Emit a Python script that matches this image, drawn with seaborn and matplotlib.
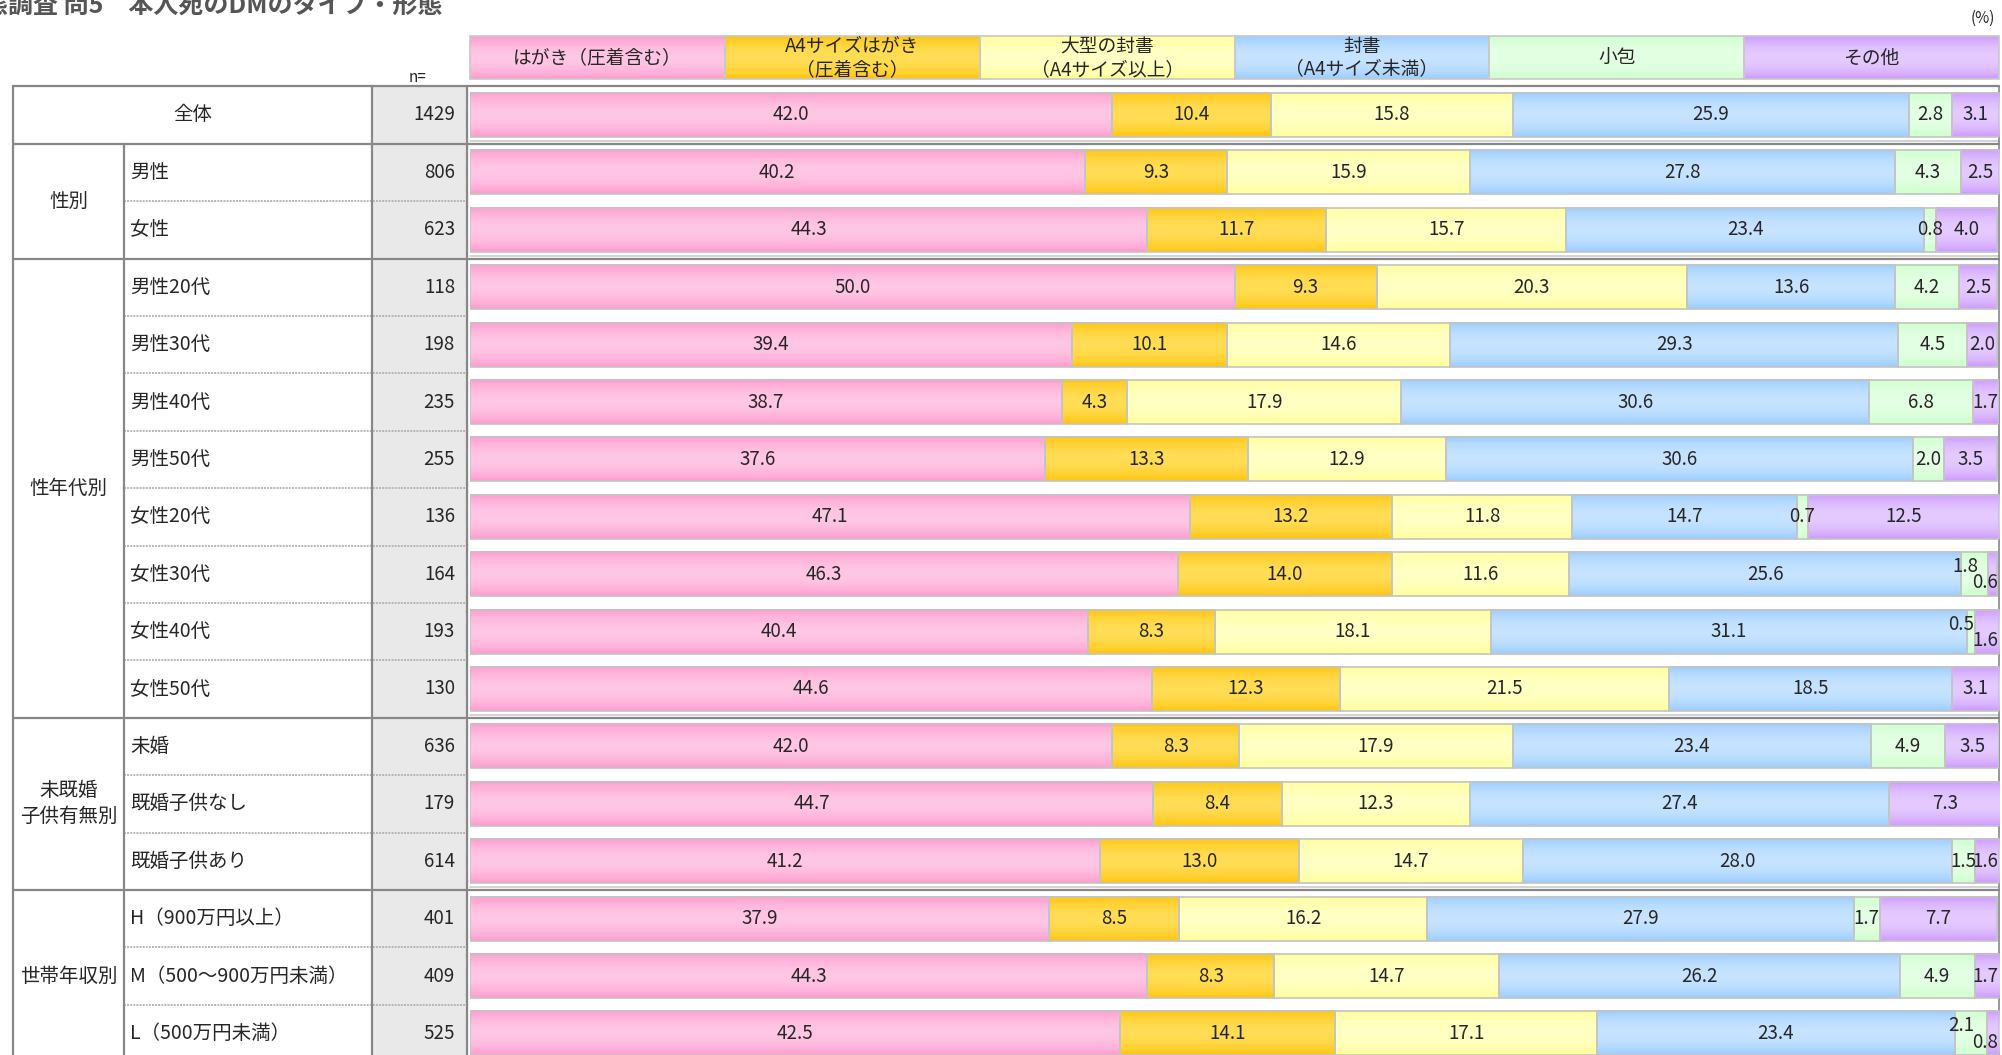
import numpy as np
import seaborn as sns
import matplotlib.pyplot as plt
from matplotlib.colors import to_rgb
from matplotlib.patches import Rectangle

sns.set_theme(style="white")
plt.rcParams['font.family'] = ['Noto Sans CJK JP', 'DejaVu Sans']

# --- data ---
rows = ["全体", "男性", "女性",
        "男性20代", "男性30代", "男性40代", "男性50代",
        "女性20代", "女性30代", "女性40代", "女性50代",
        "未婚", "既婚子供なし", "既婚子供あり",
        "H（900万円以上）", "M（500～900万円未満）", "L（500万円未満）"]
n_vals = [1429, 806, 623, 118, 198, 235, 255, 136, 164, 193, 130, 636, 179, 614, 401, 409, 525]
series = ["はがき（圧着含む）", "A4サイズはがき\n（圧着含む）", "大型の封書\n（A4サイズ以上）",
          "封書\n（A4サイズ未満）", "小包", "その他"]
hagaki = [42.0, 40.2, 44.3, 50.0, 39.4, 38.7, 37.6, 47.1, 46.3, 40.4, 44.6, 42.0, 44.7, 41.2, 37.9, 44.3, 42.5]
a4_hagaki = [10.4, 9.3, 11.7, 9.3, 10.1, 4.3, 13.3, 13.2, 14.0, 8.3, 12.3, 8.3, 8.4, 13.0, 8.5, 8.3, 14.1]
large_env = [15.8, 15.9, 15.7, 20.3, 14.6, 17.9, 12.9, 11.8, 11.6, 18.1, 21.5, 17.9, 12.3, 14.7, 16.2, 14.7, 17.1]
small_env = [25.9, 27.8, 23.4, 13.6, 29.3, 30.6, 30.6, 14.7, 25.6, 31.1, 18.5, 23.4, 27.4, 28.0, 27.9, 26.2, 23.4]
parcel = [2.8, 4.3, 0.8, 4.2, 4.5, 6.8, 2.0, 0.7, 1.8, 0.5, 0.0, 4.9, 0.0, 1.5, 1.7, 4.9, 2.1]
other = [3.1, 2.5, 4.0, 2.5, 2.0, 1.7, 3.5, 12.5, 0.6, 1.6, 3.1, 3.5, 7.3, 1.6, 7.7, 1.7, 0.8]
groups = [("性別", 1, 2), ("性年代別", 3, 10), ("未既婚\n子供有無別", 11, 13), ("世帯年収別", 14, 16)]

# (darker edge tone, lighter middle tone) for each type
shades = [("#ff99cc", "#ffc6e5"), ("#ffc40a", "#ffdd55"), ("#ffff99", "#ffffc4"),
          ("#99ccff", "#c6e3ff"), ("#ccffcc", "#e4ffe4"), ("#cc99ff", "#e4caff")]

W, H = 2002, 1055
fig = plt.figure(figsize=(W / 100, H / 100), dpi=100)

X_BAR0, X_BAR1 = 470, 1999
ROW0, PITCH = 115, 57.4


def ypx(i):
    return ROW0 + PITCH * i


def shade(axis, x0, y0, w, h, edge, mid, z):
    t = np.linspace(0, 1, 48)
    s = np.sin(np.pi * t) ** 0.8
    c0, c1 = np.array(to_rgb(edge)), np.array(to_rgb(mid))
    img = c0 + (c1 - c0) * s[:, None]
    axis.imshow(img[:, None, :], extent=(x0, x0 + w, y0 + h, y0), aspect='auto',
                interpolation='bilinear', zorder=z)


# table layer in pixel coordinates
tab = fig.add_axes([0, 0, 1, 1], zorder=0)
tab.set_xlim(0, W)
tab.set_ylim(H, 0)
tab.axis('off')

top_px, bot_px = ypx(-0.5), ypx(len(rows) - 0.5)
ax = fig.add_axes([X_BAR0 / W, 1 - bot_px / H, (X_BAR1 - X_BAR0) / W, (bot_px - top_px) / H], zorder=1)
ax.patch.set_alpha(0)

vals = np.array([hagaki, a4_hagaki, large_env, small_env, parcel, other])
lefts = np.vstack([np.zeros(len(rows)), np.cumsum(vals, axis=0)[:-1]])

for k in range(len(series)):
    before = len(ax.patches)
    sns.barplot(x=vals[k], y=rows, orient='y', left=lefts[k], color=shades[k][0],
                saturation=1, width=0.77, edgecolor='#c4c4c4', linewidth=1.2,
                errorbar=None, ax=ax)
    for p in ax.patches[before:]:
        p.set_facecolor('none')
        p.set_zorder(3)
        if p.get_width() > 0:
            shade(ax, p.get_x(), p.get_y(), p.get_width(), p.get_height(),
                  shades[k][0], shades[k][1], 2)

# value labels (tiny neighbouring segments get staggered up/down)
for k in range(len(series)):
    for i in range(len(rows)):
        v = vals[k, i]
        if v <= 0:
            continue
        xc = lefts[k, i] + v / 2
        dy = 0
        g, o = vals[4, i], vals[5, i]
        if k >= 4 and g > 0 and g + o < 3.5 and min(g, o) < 1.0:
            dy = -0.13 if k == 4 else 0.15
            if k == 4:
                xc -= 0.6
        xc = min(xc, 99.1)
        ax.text(xc, i + dy, f"{v:.1f}", ha='center', va='center', fontsize=13.5, zorder=5)

ax.set_xlim(0, 100)
ax.set_ylim(len(rows) - 0.5, -0.5)
ax.axis('off')

# --- table frame ---
GRID = '#878787'
x_left, x_grp, x_lab, x_n = 13, 124, 372, 467
tab.add_patch(Rectangle((x_lab, top_px), x_n - x_lab, H - top_px, color='#e9e9e9', zorder=0))

tab.plot([x_left, X_BAR1], [top_px, top_px], color=GRID, lw=1.6)
group_ends = [0] + [g[2] for g in groups[:-1]]
for i in range(len(rows) - 1):
    yb = ypx(i + 0.5)
    if i in group_ends:
        tab.plot([x_left, X_BAR1], [yb, yb], color=GRID, lw=1.6)
        tab.plot([X_BAR0, X_BAR1], [yb - 3, yb - 3], color='#cccccc', lw=1.2)
    else:
        tab.plot([x_grp, x_n], [yb, yb], color='#b5b5b5', lw=1.4, ls=(0, (1, 0.6)))

tab.plot([x_left, x_left], [top_px, H], color=GRID, lw=1.6)
tab.plot([x_grp, x_grp], [ypx(0.5), H], color=GRID, lw=1.6)
tab.plot([x_lab, x_lab], [top_px, H], color=GRID, lw=1.6)
tab.plot([x_n, x_n], [top_px, H], color=GRID, lw=1.6)
tab.plot([X_BAR1, X_BAR1], [top_px, H], color=GRID, lw=1.2)

# row texts
tab.text((x_left + x_lab) / 2, ypx(0), rows[0], ha='center', va='center', fontsize=14)
for i in range(1, len(rows)):
    tab.text(x_grp + 6, ypx(i), rows[i], ha='left', va='center', fontsize=14)
for i, n in enumerate(n_vals):
    tab.text(x_n - 12, ypx(i), str(n), ha='right', va='center', fontsize=13.5)
for name, a, b in groups:
    tab.text((x_left + x_grp) / 2, ypx((a + b) / 2), name, ha='center', va='center',
             fontsize=14, linespacing=1.3)

# legend header
box_w = (X_BAR1 - X_BAR0) / len(series)
for k, name in enumerate(series):
    bx = X_BAR0 + k * box_w
    shade(tab, bx, 36, box_w, 43, shades[k][0], shades[k][1], 1)
    tab.add_patch(Rectangle((bx, 36), box_w, 43, fill=False, ec='#c8c8c8', lw=1.2, zorder=2))
    tab.text(bx + box_w / 2, 58, name, ha='center', va='center', fontsize=13.5,
             linespacing=1.1, zorder=3)

tab.text(418, 77, "n=", ha='center', va='center', fontsize=11)
tab.text(1983, 18, "(%)", ha='center', va='center', fontsize=11)
tab.text(-17, 13, "態調査 問5　本人宛のDMのタイプ・形態", ha='left', va='baseline',
         fontsize=18, fontweight='bold', color='#555555')

tab.set_xlim(0, W)
tab.set_ylim(H, 0)

fig.savefig("out.png", dpi=100)
